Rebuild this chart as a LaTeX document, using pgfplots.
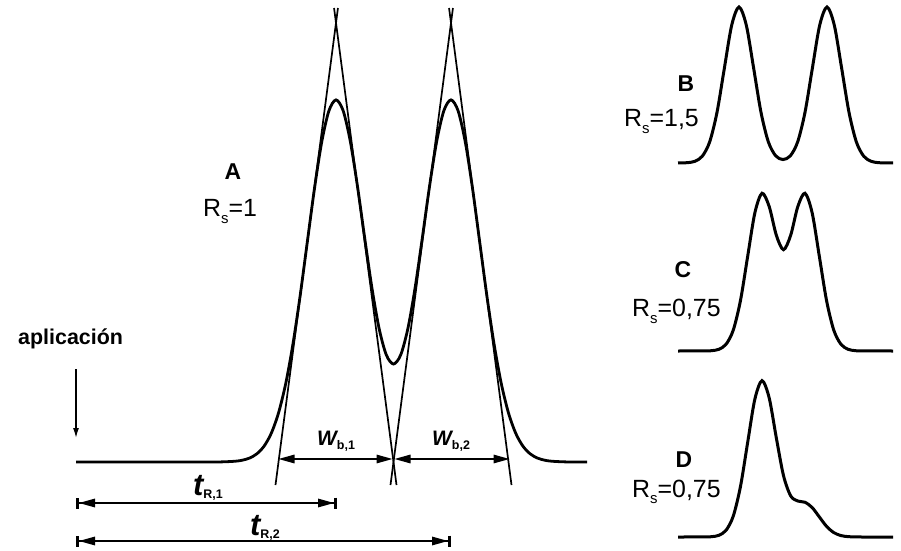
\documentclass[border=0pt]{standalone}
\usepackage{pgfplots}
\pgfplotsset{compat=1.18}
\usepackage{fontspec}
\setmainfont{Liberation Sans}
\usetikzlibrary{arrows.meta}
\newcommand{\Rs}[1]{R\raisebox{-0.28em}{\fontsize{15}{15}\selectfont s}=#1}
\tikzset{tri/.tip={Triangle[length=16bp,width=8.5bp]}, bar/.tip={Bar[width=11bp,line width=3bp]}}
\begin{document}
\begin{tikzpicture}
\begin{axis}[x=1bp, y=1bp, y dir=reverse, xmin=0, xmax=901, ymin=0, ymax=551,
  hide axis, clip=false, scale only axis]
\path (axis cs:0,0) rectangle (axis cs:901,551);
% ---------- Panel A : chromatogram Rs = 1
\addplot[black, line width=2.8bp, smooth, tension=0.5] coordinates {
(76,462) (200,462) (221,461.9) (235.375,461.21) (242.56,460.16) (249.75,457.98) (256.94,453.75)
(264.125,446.09) (271.31,433.2) (278.5,413.01) (285.69,383.71) (292.875,344.48)
(300.06,296.27) (307.25,242.44) (314.44,188.75) (321.625,142.53) (328.81,111.1)
(336,99.88) (343.19,110.82) (350.375,141.74) (357.56,186.91) (364.75,238.42)
(371.94,288.02) (379.125,328.57) (386.31,354.91) (393.5,364.02) (400.69,354.91)
(407.875,328.57) (415.06,288.02) (422.25,238.42) (429.44,186.91) (436.625,141.74)
(443.81,110.82) (451,99.88) (458.19,111.1) (465.375,142.53) (472.56,188.75)
(479.75,242.44) (486.94,296.27) (494.125,344.48) (501.31,383.71) (508.5,413.01)
(515.69,433.2) (522.875,446.09) (530.06,453.75) (537.25,457.98) (544.44,460.16)
(551.625,461.21) (566,461.9) (587,462)};
% tangents
\addplot[black, line width=1.7bp] coordinates {(275.49,485) (337.95,8)};
\addplot[black, line width=1.7bp] coordinates {(396.51,485) (334.05,8)};
\addplot[black, line width=1.7bp] coordinates {(390.49,485) (452.95,8)};
\addplot[black, line width=1.7bp] coordinates {(511.51,485) (449.05,8)};
% base widths
\addplot[black, line width=1.6bp, {tri[]}-{tri[]}] coordinates {(278.5,459) (392.5,459)};
\addplot[black, line width=1.6bp, {tri[]}-{tri[]}] coordinates {(394.5,459) (509.5,459)};
% retention times
\addplot[black, line width=1.6bp, {bar[]tri[]}-{tri[]bar[]}] coordinates {(76,503) (337,503)};
\addplot[black, line width=1.6bp, {bar[]tri[]}-{tri[]bar[]}] coordinates {(76,541) (451,541)};
% application arrow
\addplot[black, line width=1.4bp, -{Latex[length=10bp,width=6bp]}] coordinates {(76,369) (76,438)};
% labels
\node[anchor=base west, inner sep=0] at (axis cs:18,345) {\fontsize{21.5}{24}\selectfont\bfseries aplicación};
\node[anchor=base, inner sep=0] at (axis cs:233,180) {\fontsize{23}{26}\selectfont\bfseries A};
\node[anchor=base west, inner sep=0] at (axis cs:203,217) {\fontsize{25}{28}\selectfont\Rs{1}};
\node[anchor=base west, inner sep=0] at (axis cs:317,445) {\fontsize{21}{24}\selectfont\bfseries\itshape W\raisebox{-0.2em}{\fontsize{12.5}{13}\selectfont\upshape b,1}};
\node[anchor=base west, inner sep=0] at (axis cs:432,445) {\fontsize{21}{24}\selectfont\bfseries\itshape W\raisebox{-0.2em}{\fontsize{12.5}{13}\selectfont\upshape b,2}};
\node[anchor=base west, inner sep=0] at (axis cs:193,495) {\fontsize{31}{34}\selectfont\bfseries\itshape t\raisebox{-0.12em}{\fontsize{12.5}{13}\selectfont\upshape R,1}};
\node[anchor=base west, inner sep=0] at (axis cs:250,535) {\fontsize{31}{34}\selectfont\bfseries\itshape t\raisebox{-0.12em}{\fontsize{12.5}{13}\selectfont\upshape R,2}};
% ---------- Panel B : Rs = 1.5
\addplot[black, line width=3bp, smooth, tension=0.5] coordinates {
(678,163) (680.33,162.95) (687.67,162.66) (695,161.27) (702.33,156.15) (709.67,141.89)
(717,112.35) (724.33,68.38) (731.67,25.33) (739,7) (746.33,25.33) (753.67,68.38)
(761,112.35) (768.33,141.84) (775.67,155.81) (783,159.54) (790.33,155.81) (797.67,141.84)
(805,112.35) (812.33,68.38) (819.67,25.33) (827,7) (834.33,25.33) (841.67,68.38)
(849,112.35) (856.33,141.89) (863.67,156.15) (871,161.27) (878.33,162.66) (885.67,162.95) (893,163)};
\node[anchor=base, inner sep=0] at (axis cs:686,92) {\fontsize{23}{26}\selectfont\bfseries B};
\node[anchor=base west, inner sep=0] at (axis cs:624,127) {\fontsize{25}{28}\selectfont\Rs{1,5}};
% ---------- Panel C : Rs = 0.75
\addplot[black, line width=3bp, smooth, tension=0.5] coordinates {
(678,351) (704.67,350.95) (711.83,350.66) (719,349.27) (726.17,344.15) (733.33,329.89)
(740.5,300.35) (747.67,256.33) (754.83,212.99) (762,193.27) (769.17,206.48) (776.33,235.27)
(783.5,249.7) (790.67,235.27) (797.83,206.48) (805,193.27) (812.17,212.99) (819.33,256.33)
(826.5,300.35) (833.67,329.89) (840.83,344.15) (848,349.27) (855.17,350.66) (862.33,350.95) (893,351)};
\node[anchor=base, inner sep=0] at (axis cs:683,278) {\fontsize{23}{26}\selectfont\bfseries C};
\node[anchor=base west, inner sep=0] at (axis cs:632,317) {\fontsize{25}{28}\selectfont\Rs{0,75}};
% ---------- Panel D : Rs = 0.75, unequal
\addplot[black, line width=3bp, smooth, tension=0.5] coordinates {
(678,537) (704.67,536.95) (711.83,536.66) (719,535.27) (726.17,530.15) (733.33,515.89)
(740.5,486.35) (747.67,442.37) (754.83,399.26) (762,380.63) (769.17,397.88) (776.33,437.91)
(783.5,475.64) (790.67,495.87) (797.83,501.03) (805,502.27) (812.17,507.54) (819.33,516.93)
(826.5,526.29) (833.67,532.53) (840.83,535.55) (848,536.63) (855.17,536.93) (862.33,537) (893,537)};
\node[anchor=base, inner sep=0] at (axis cs:684,467) {\fontsize{23}{26}\selectfont\bfseries D};
\node[anchor=base west, inner sep=0] at (axis cs:632,497) {\fontsize{25}{28}\selectfont\Rs{0,75}};
\end{axis}
\end{tikzpicture}
\end{document}
